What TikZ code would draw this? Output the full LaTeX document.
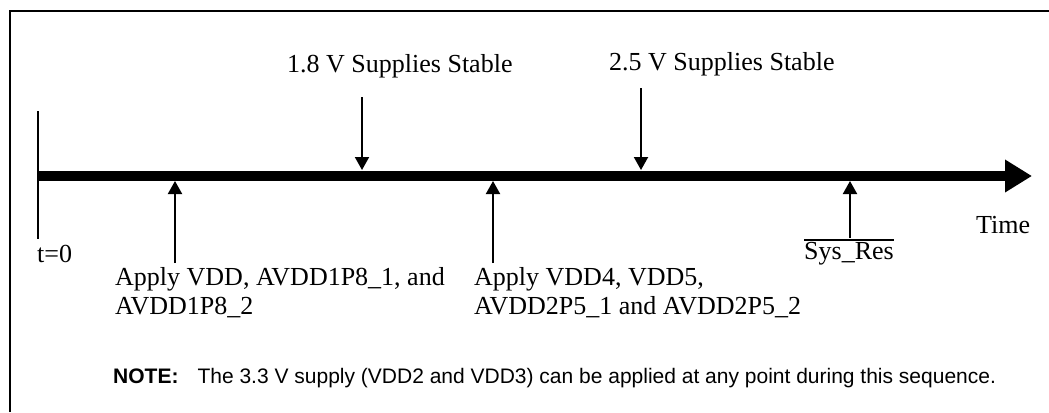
\documentclass[tikz,border=0pt]{standalone}
\usepackage{fontspec}
\setmainfont{Liberation Serif}
\setsansfont{Liberation Sans}
\usetikzlibrary{arrows.meta}
\begin{document}
\begin{tikzpicture}[x=1bp,y=-1bp,
  lbl/.style={inner sep=0pt,font=\fontsize{26bp}{29bp}\selectfont},
  multilbl/.style={lbl,align=left,anchor=north west},
  notelbl/.style={inner sep=0pt,anchor=base west,font=\sffamily\fontsize{21bp}{24bp}\selectfont},
  thinarrow/.style={line width=2bp,-{Triangle[length=13bp,width=14bp]}},
  bar/.style={line width=10.7bp,-{Triangle[length=27bp,width=31bp]}},
  frame/.style={line width=2.5bp}
]
\useasboundingbox (0,0) rectangle (1049,412);
% frame
\draw[frame] (10,412) -- (10,11) -- (1049,11);

% timeline
\coordinate (tstart) at (37,176);
\coordinate (tend) at (1032,176);
\draw[bar] (tstart) -- (tend);

% t=0 marker
\coordinate (t0top) at (38,111);
\coordinate (t0bot) at (38,239);
\draw[line width=2bp] (t0top) -- (t0bot);
\node[lbl,anchor=base west] (t0) at (37,262) {t=0};

% labels above
\node[lbl,anchor=base west] (s18) at (287,72) {1.8 V Supplies Stable};
\node[lbl,anchor=base west] (s25) at (609,70) {2.5 V Supplies Stable};
\coordinate (d1top) at (362,97);
\coordinate (d1tip) at (362,170);
\coordinate (d2top) at (641,88);
\coordinate (d2tip) at (641,170);
\draw[thinarrow] (d1top) -- (d1tip);
\draw[thinarrow] (d2top) -- (d2tip);

% labels below
\node[multilbl] (ap1) at (115,267.5) {Apply VDD, AVDD1P8\_1, and\\AVDD1P8\_2};
\node[multilbl] (ap2) at (474,267.5) {Apply VDD4, VDD5,\\AVDD2P5\_1 and AVDD2P5\_2};
\coordinate (u1bot) at (175,263);
\coordinate (u1tip) at (175,181);
\coordinate (u2bot) at (493,263);
\coordinate (u2tip) at (493,181);
\draw[thinarrow] (u1bot) -- (u1tip);
\draw[thinarrow] (u2bot) -- (u2tip);

% Sys_Res
\node[lbl,anchor=base west] (sr) at (804,259) {Sys\_Res};
\draw[line width=2bp] ([yshift=2bp]sr.north west) -- ([yshift=2bp]sr.north east);
\coordinate (srbot) at (850,238);
\coordinate (srtip) at (850,181);
\draw[thinarrow] (srbot) -- (srtip);

% Time
\node[lbl,anchor=base west] (time) at (976,233) {Time};

% note
\node[notelbl] (note) at (113,383) {\textbf{NOTE:}\hspace{19bp}The 3.3 V supply (VDD2 and VDD3) can be applied at any point during this sequence.};
\end{tikzpicture}
\end{document}
